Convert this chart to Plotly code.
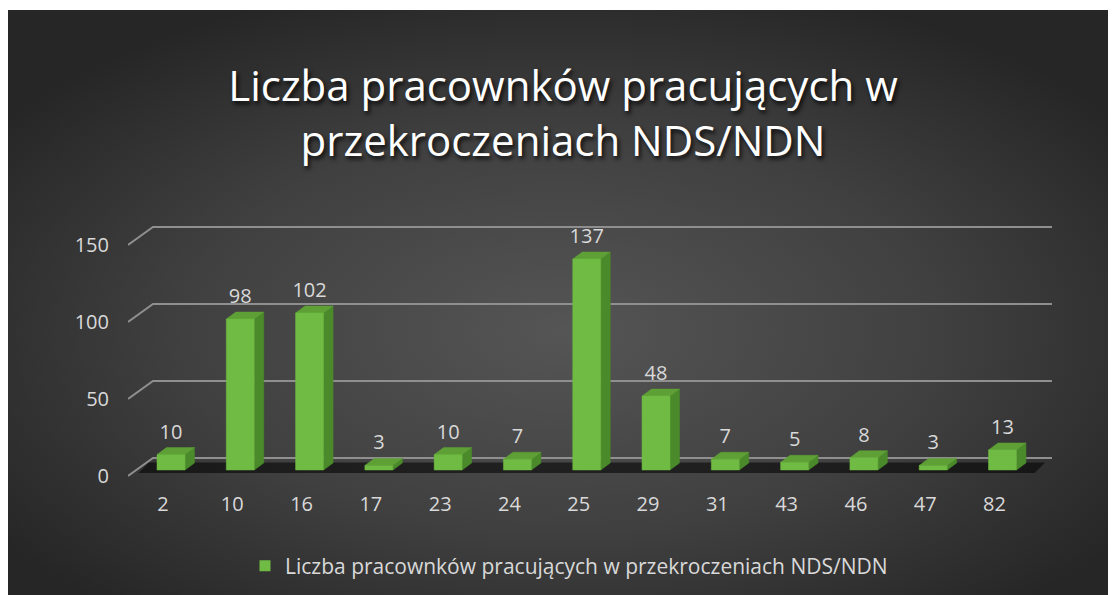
import base64
import plotly.graph_objects as go

# ---------------- data ----------------
categories = ["2", "10", "16", "17", "23", "24", "25", "29", "31", "43", "46", "47", "82"]
values = [10, 98, 102, 3, 10, 7, 137, 48, 7, 5, 8, 3, 13]
series_name = "Liczba pracownków pracujących w przekroczeniach NDS/NDN"
title_lines = ["Liczba pracownków pracujących w", "przekroczeniach NDS/NDN"]
y_ticks = [0, 50, 100, 150]

# ---------------- style / geometry (pseudo 3D) ----------------
W, H = 1108, 587
PX_X = 69.3          # pixels per category
PX_Y = 1.54          # pixels per value unit
X_RANGE = [-0.505, 12.83]
Y_RANGE = [-9.09, 169.48]
L_M, R_M, T_M, B_M = 120, 64, 207, 105

bar_shift = 8 / PX_X
half_w = 14 / PX_X
base = 6 / PX_Y
dx = 9.5 / PX_X
dy = 7 / PX_Y
wall_dx = 25 / PX_X
wall_dy = 18 / PX_Y

FRONT = "#6fbb43"
SIDE = "#4b8a2a"
TOP = "#5fa036"
GRID = "#8f8f8f"
TXT = "#d9d9d9"

n = len(categories)
idx = list(range(n))

fig = go.Figure()

# gridlines (back wall + floor slant)
gx, gy = [], []
for v in y_ticks:
    gx += [X_RANGE[0], X_RANGE[0] + wall_dx, X_RANGE[1], None]
    gy += [v, v + wall_dy, v + wall_dy, None]
fig.add_trace(go.Scatter(x=gx, y=gy, mode="lines", line=dict(color=GRID, width=2),
                         hoverinfo="skip", showlegend=False))

# dark floor band
fx = [X_RANGE[0] + 0.15, X_RANGE[0] + 0.3, X_RANGE[1] - 0.1, X_RANGE[1] - 0.25, X_RANGE[0] + 0.15]
fy = [base - 2, wall_dy - 3, wall_dy - 3, base - 2, base - 2]
fig.add_trace(go.Scatter(x=fx, y=fy, mode="lines", fill="toself",
                         fillcolor="rgba(0,0,0,0.55)", line=dict(width=0),
                         hoverinfo="skip", showlegend=False))

# bar faces
sx, sy, tx, ty, frx, fry = [], [], [], [], [], []
for i, val in zip(idx, values):
    c = i + bar_shift
    x0, x1 = c - half_w, c + half_w
    b, t = base, base + val
    frx += [x0, x1, x1, x0, x0, None]
    fry += [b, b, t, t, b, None]
    sx += [x1, x1 + dx, x1 + dx, x1, x1, None]
    sy += [b, b + dy, t + dy, t, b, None]
    tx += [x0, x1, x1 + dx, x0 + dx, x0, None]
    ty += [t, t, t + dy, t + dy, t, None]

for xs, ys, col in [(sx, sy, SIDE), (tx, ty, TOP), (frx, fry, FRONT)]:
    fig.add_trace(go.Scatter(x=xs, y=ys, mode="lines", fill="toself", fillcolor=col,
                             line=dict(width=0.5, color=col), hoverinfo="skip",
                             showlegend=False))

# data labels
fig.add_trace(go.Scatter(
    x=[i + bar_shift for i in idx], y=[base + v + 21 / PX_Y for v in values],
    mode="text", text=[str(v) for v in values], textposition="middle center",
    textfont=dict(family="Open Sans", size=20, color=TXT),
    hoverinfo="skip", showlegend=False, cliponaxis=False))

# legend entry
fig.add_trace(go.Scatter(x=[None], y=[None], mode="markers", name=series_name,
                         marker=dict(symbol="square", size=11, color=FRONT)))

# background radial gradient
svg = '''<svg xmlns="http://www.w3.org/2000/svg" width="1108" height="585">
<defs><radialGradient id="g" cx="0.5" cy="0.55" r="0.62">
<stop offset="0" stop-color="#555555"/><stop offset="0.55" stop-color="#404040"/>
<stop offset="1" stop-color="#262626"/></radialGradient></defs>
<rect width="1108" height="585" fill="url(#g)"/></svg>'''
src = "data:image/svg+xml;base64," + base64.b64encode(svg.encode()).decode()
pw, ph = W - L_M - R_M, H - T_M - B_M
fig.add_layout_image(dict(source=src, xref="paper", yref="paper",
                          x=(0 - L_M) / pw, y=1 + (T_M - 2) / ph,
                          sizex=1108 / pw, sizey=585 / ph,
                          xanchor="left", yanchor="top", sizing="stretch", layer="below"))

fig.update_layout(
    width=W, height=H,
    margin=dict(l=L_M, r=R_M, t=T_M, b=B_M),
    paper_bgcolor="white", plot_bgcolor="rgba(0,0,0,0)",
    title=dict(text="<br>".join(title_lines), xref="container", x=555 / W,
               xanchor="center", yref="container", y=1 - 93 / H, yanchor="top",
               font=dict(family="Open Sans", size=42, color="white",
                         shadow="2px 3px 4px rgba(0,0,0,0.85)")),
    xaxis=dict(range=X_RANGE, tickvals=idx, ticktext=categories, showgrid=False,
               zeroline=False, showline=False, ticks="", ticklabelstandoff=0,
               tickfont=dict(family="Open Sans", size=20, color=TXT), fixedrange=True),
    yaxis=dict(range=Y_RANGE, tickvals=y_ticks, showgrid=False, zeroline=False,
               showline=False, ticks="", ticklabelstandoff=18,
               tickfont=dict(family="Open Sans", size=20, color=TXT), fixedrange=True),
    legend=dict(orientation="h", xref="container", x=561 / W, xanchor="center",
                yref="container", y=1 - 558 / H, yanchor="middle",
                font=dict(family="Open Sans", size=21, color=TXT),
                bgcolor="rgba(0,0,0,0)", itemwidth=30),
    showlegend=True,
)

fig.write_html("out.html")
